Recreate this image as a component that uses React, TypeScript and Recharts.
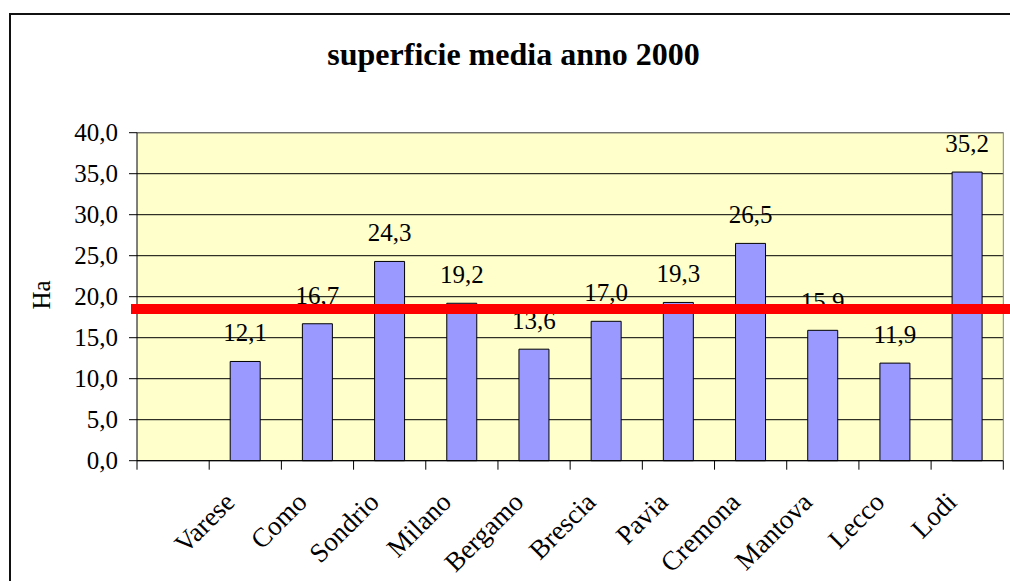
import React from "react";
import {
    BarChart, Bar, XAxis, YAxis, CartesianGrid, ReferenceLine, LabelList
} from "recharts";

// province, average farm surface in hectares (first slot is left empty in the original)
const categories = ["", "Varese", "Como", "Sondrio", "Milano", "Bergamo", "Brescia", "Pavia", "Cremona", "Mantova", "Lecco", "Lodi"];
const values: (number | null)[] = [null, 12.1, 16.7, 24.3, 19.2, 13.6, 17.0, 19.3, 26.5, 15.9, 11.9, 35.2];
const averageValue = 18.5;
const yTicks = [0, 5, 10, 15, 20, 25, 30, 35, 40];

const data = categories.map((name, i) => ({ name, value: values[i] }));

const W = 1010;
const H = 581;
const PLOT_TOP = 132.7;
const PLOT_LEFT = 137;
const RIGHT_AXIS_W = 6.7;
const X_AXIS_H = 120.3;
const BAND = (W - RIGHT_AXIS_W - PLOT_LEFT) / categories.length;

const FONT = "'Liberation Serif', 'Times New Roman', serif";

const fmt = (v: any) => (v == null || v === "" ? "" : Number(v).toFixed(1).replace(".", ","));

const CategoryTick = (props: any) => {
    const { x, y, payload } = props;
    const index = props.index ?? payload?.index ?? 0;
    const half = BAND / 2;
    const tx = x - 9;
    const ty = y + 43;
    return (
        <g>
            <line x1={x - half} x2={x - half} y1={y} y2={y + 9} stroke="#000" />
            {index === categories.length - 1 && (
                <line x1={x + half} x2={x + half} y1={y} y2={y + 9} stroke="#000" />
            )}
            <text
                x={tx}
                y={ty}
                textAnchor="end"
                transform={`rotate(-45 ${tx} ${ty})`}
                fontFamily={FONT}
                fontSize={27}
                fill="#000"
            >
                {payload.value}
            </text>
        </g>
    );
};

const ValueTickY = (props: any) => {
    const { x, y, payload } = props;
    return (
        <text x={x} y={y} dy={8} textAnchor="end" fontFamily={FONT} fontSize={25} fill="#000">
            {fmt(payload.value)}
        </text>
    );
};

const BarValueLabel = (props: any) => {
    const { x, y, width, value } = props;
    if (value == null) return null;
    return (
        <text x={x + width / 2} y={y - 20} textAnchor="middle" fontFamily={FONT} fontSize={25} fill="#000">
            {fmt(value)}
        </text>
    );
};

const AverageLine = (props: any) => {
    const { x1, x2, y1, y2 } = props;
    return <line x1={x1 - 6} x2={x2 + RIGHT_AXIS_W + 1} y1={y1} y2={y2} stroke="#FF0000" strokeWidth={10} />;
};

export default function App() {
    return (
        <div style={{ position: "absolute", left: 0, top: 0, width: W, height: H, overflow: "hidden", background: "#fff", fontFamily: FONT }}>
            <div
                style={{
                    position: "absolute", left: 9, top: 13, width: W + 20, height: H + 20,
                    borderLeft: "2px solid #111", borderTop: "2px solid #111"
                }}
            />
            <BarChart
                width={W}
                height={H}
                data={data}
                margin={{ top: PLOT_TOP, right: 0, bottom: 0, left: 0 }}
                style={{ position: "absolute", left: 0, top: 0, fontFamily: FONT }}
            >
                <CartesianGrid vertical={false} stroke="#000" fill="#FFFFCC" fillOpacity={1} />
                <XAxis
                    dataKey="name"
                    height={X_AXIS_H}
                    interval={0}
                    tickSize={0}
                    tickMargin={0}
                    tickLine={false}
                    axisLine={{ stroke: "#000" }}
                    tick={<CategoryTick />}
                />
                <YAxis
                    width={PLOT_LEFT}
                    domain={[0, 40]}
                    ticks={yTicks}
                    interval={0}
                    tickSize={8}
                    tickMargin={11}
                    axisLine={{ stroke: "#000" }}
                    tickLine={{ stroke: "#000" }}
                    tick={<ValueTickY />}
                />
                <YAxis
                    yAxisId="right"
                    orientation="right"
                    width={RIGHT_AXIS_W}
                    domain={[0, 40]}
                    tick={false}
                    tickLine={false}
                    axisLine={{ stroke: "#808080" }}
                />
                <ReferenceLine y={40} stroke="#808080" />
                <Bar dataKey="value" fill="#9999FF" stroke="#000" strokeWidth={1} barSize={30} isAnimationActive={false}>
                    <LabelList dataKey="value" content={<BarValueLabel />} />
                </Bar>
                <ReferenceLine y={averageValue} shape={<AverageLine />} zIndex={3000} ifOverflow="visible" />
            </BarChart>
            <svg width={W} height={H} style={{ position: "absolute", left: 0, top: 0, pointerEvents: "none" }}>
                <text x={513.5} y={65} textAnchor="middle" fontFamily={FONT} fontSize={32} fontWeight="bold" fill="#000">
                    superficie media anno 2000
                </text>
                <text
                    x={49.5}
                    y={295}
                    textAnchor="middle"
                    transform="rotate(-90 49.5 295)"
                    fontFamily={FONT}
                    fontSize={25}
                    fill="#000"
                >
                    Ha
                </text>
            </svg>
        </div>
    );
}
